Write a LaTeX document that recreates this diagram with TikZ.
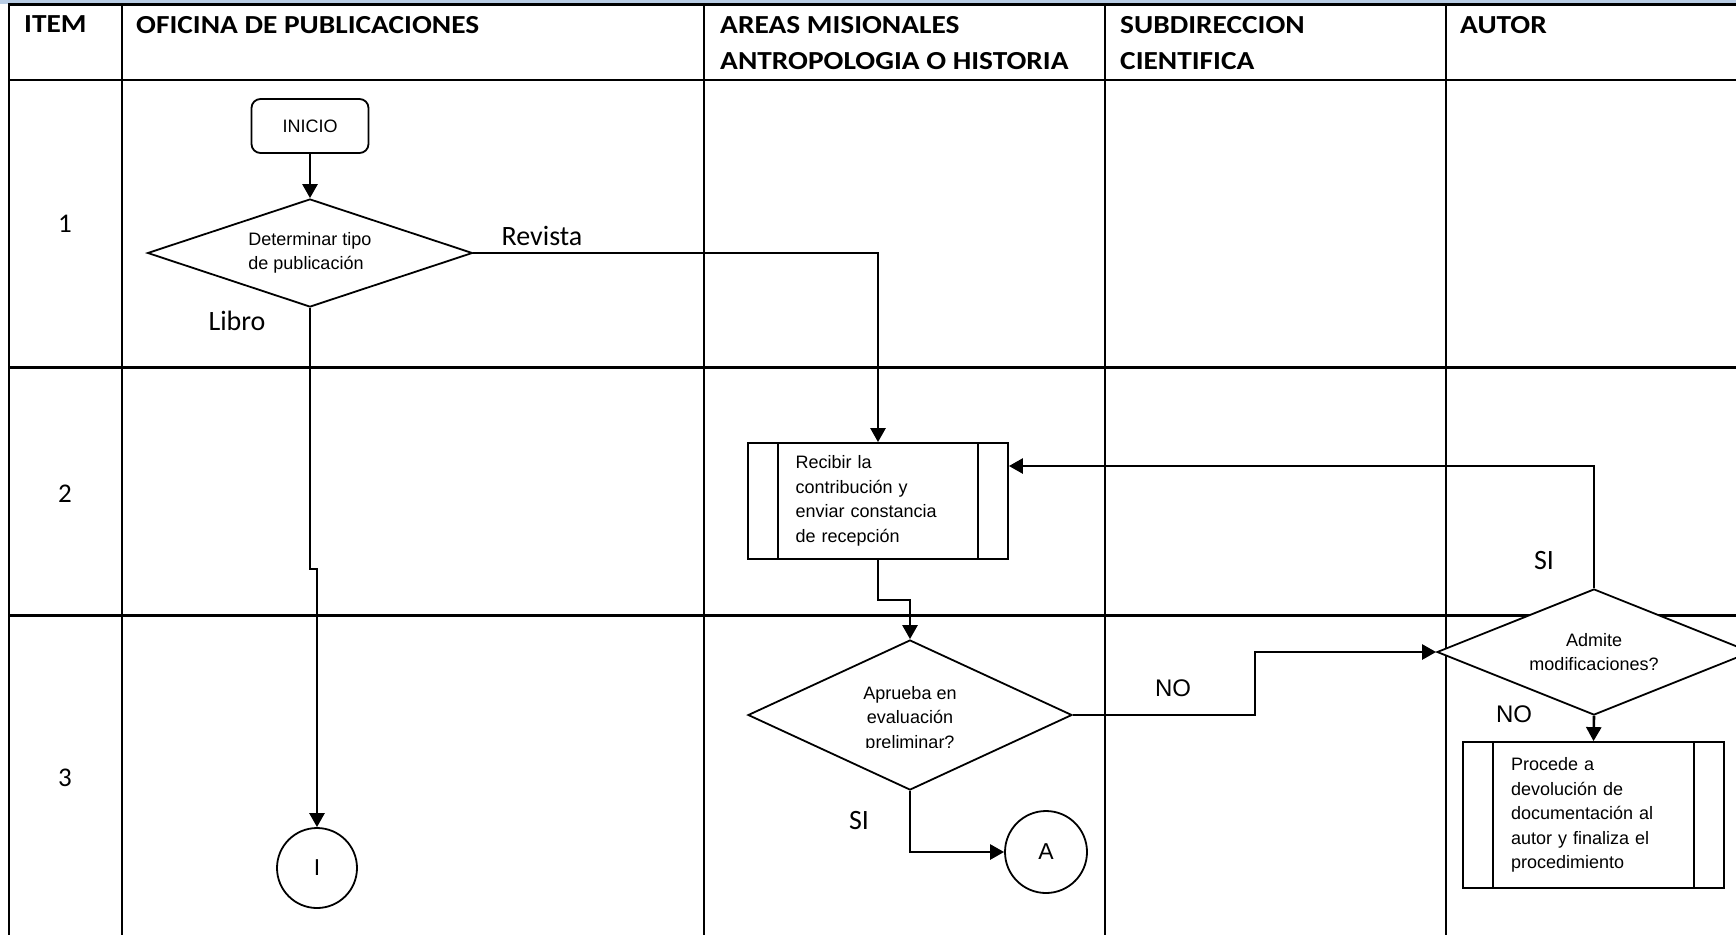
\documentclass[tikz,border=0pt]{standalone}
\usepackage{fontspec}
\setmainfont{Liberation Sans}
\newfontfamily\calibri{Carlito}
\newfontfamily\headfont{Carlito}[FakeStretch=1.13]
\usetikzlibrary{arrows.meta,shapes.geometric}
\definecolor{headblue}{RGB}{184,204,228}
\tikzset{
  grid line/.style={line width=2.4pt,black},
  top line/.style={line width=3pt,black},
  flow line/.style={line width=2.6pt,black},
  flow arrow/.style={flow line,-{Triangle[length=14pt,width=15pt]}},
  shape border/.style={draw,line width=1.8pt,black,fill=white},
  node text/.style={font=\fontsize{18}{24.5}\selectfont},
  start box/.style={shape border,node text,rounded corners=9pt,minimum width=117pt,minimum height=54pt,inner sep=0pt},
  process box/.style={shape border,node text,minimum width=260pt,minimum height=116pt,text width=165pt,align=left,inner sep=0pt},
  decision/.style={shape border,node text,diamond,inner sep=0pt},
  link circle/.style={shape border,circle,inner sep=0pt,font=\fontsize{23}{23}\selectfont},
  lane head/.style={anchor=north west,inner sep=0pt,align=left,font=\headfont\bfseries\fontsize{26}{36}\selectfont},
  item label/.style={inner sep=0pt,font=\calibri\fontsize{27}{27}\selectfont},
  branch label/.style={inner sep=0pt,font=\calibri\fontsize{28}{28}\selectfont},
  answer label/.style={inner sep=0pt,font=\fontsize{24}{24}\selectfont},
}
\newcommand{\drawSideBars}[2]{
\draw[line width=1.8pt] ([xshift=#2]#1.north west) -- ([xshift=#2]#1.south west);
\draw[line width=1.8pt] ([xshift=-#2]#1.north east) -- ([xshift=-#2]#1.south east);
}

\begin{document}
\begin{tikzpicture}[x=1pt,y=-1pt]
\useasboundingbox (0,0) rectangle (1736,935);
\clip (0,0) rectangle (1736,935);
% swimlane table
\fill[headblue] (0,0) rectangle (1736,3.5);
\draw[top line] (8,4.5) -- (1736,4.5);
\foreach \y in {80,367.6,615.6} \draw[grid line] (9,\y) -- (1736,\y);
\foreach \x in {9,121.8,704,1105,1446} \draw[grid line] (\x,4.5) -- (\x,935);
\node[lane head] (head item) at (24,15.8) {ITEM};
\node[lane head] (head oficina) at (136,15.8) {OFICINA DE PUBLICACIONES};
\node[lane head] (head areas) at (720,15.8) {AREAS MISIONALES\\ANTROPOLOGIA O HISTORIA};
\node[lane head] (head subdir) at (1120,15.8) {SUBDIRECCION\\CIENTIFICA};
\node[lane head] (head autor) at (1460,15.8) {AUTOR};
\node[item label] (item 1) at (65,224) {1};
\node[item label] (item 2) at (65,494) {2};
\node[item label] (item 3) at (65,778) {3};
% shapes
\node[start box] (inicio) at (310,126) {INICIO};
\node[decision,aspect=3,align=left,minimum width=325pt,minimum height=108pt] (tipo) at (310,253) {Determinar tipo\\de publicación};
\node[process box] (recibe) at (878,501) {Recibir la\\contribución y\\enviar constancia\\de recepción};
\drawSideBars{recibe}{31pt}
\node[decision,aspect=2.2,minimum width=324pt,minimum height=150pt] (aprueba) at (910,715) {};
\begin{scope}
\clip (740,600) rectangle (1080,747);
\node[node text,align=center,inner sep=0pt] (aprueba text) at (910,719) {Aprueba en\\evaluación\\preliminar?};
\end{scope}
\node[link circle,minimum size=82pt] (conA) at (1046,852) {A};
\node[link circle,minimum size=80pt] (conI) at (317,868) {I};
\node[decision,aspect=2.5,align=center,minimum width=314pt,minimum height=126pt] (admite) at (1594,652) {Admite\\modificaciones?};
\node[process box,minimum width=261pt,minimum height=146pt] (devol) at (1593.5,815) {Procede a\\devolución de\\documentación al\\autor y finaliza el\\procedimiento};
\drawSideBars{devol}{31pt}
% connectors
\draw[flow arrow] (inicio) -- (tipo);
\draw[flow arrow] (tipo.east) -| (recibe.north);
\node[branch label] (lbl revista) at (542,236) {Revista};
\draw[flow arrow] (tipo.south) -- ++(0,261) -| (conI.north);
\node[branch label] (lbl libro) at (237,321) {Libro};
\draw[flow arrow] (recibe.south) -- ++(0,40) -| (aprueba.north);
\draw[flow arrow] (aprueba.south) |- (conA.west);
\node[branch label] (lbl si a) at (859,820) {SI};
\draw[flow arrow] (aprueba.east) -- ++(182,0) |- (admite.west);
\node[answer label] (lbl no a) at (1173,688) {NO};
\draw[flow arrow] (admite.north) |- ([yshift=35pt]recibe.east);
\node[branch label] (lbl si b) at (1544,560) {SI};
\draw[flow arrow] (admite.south) -- (devol.north);
\node[answer label] (lbl no b) at (1514,714) {NO};
\end{tikzpicture}
\end{document}
